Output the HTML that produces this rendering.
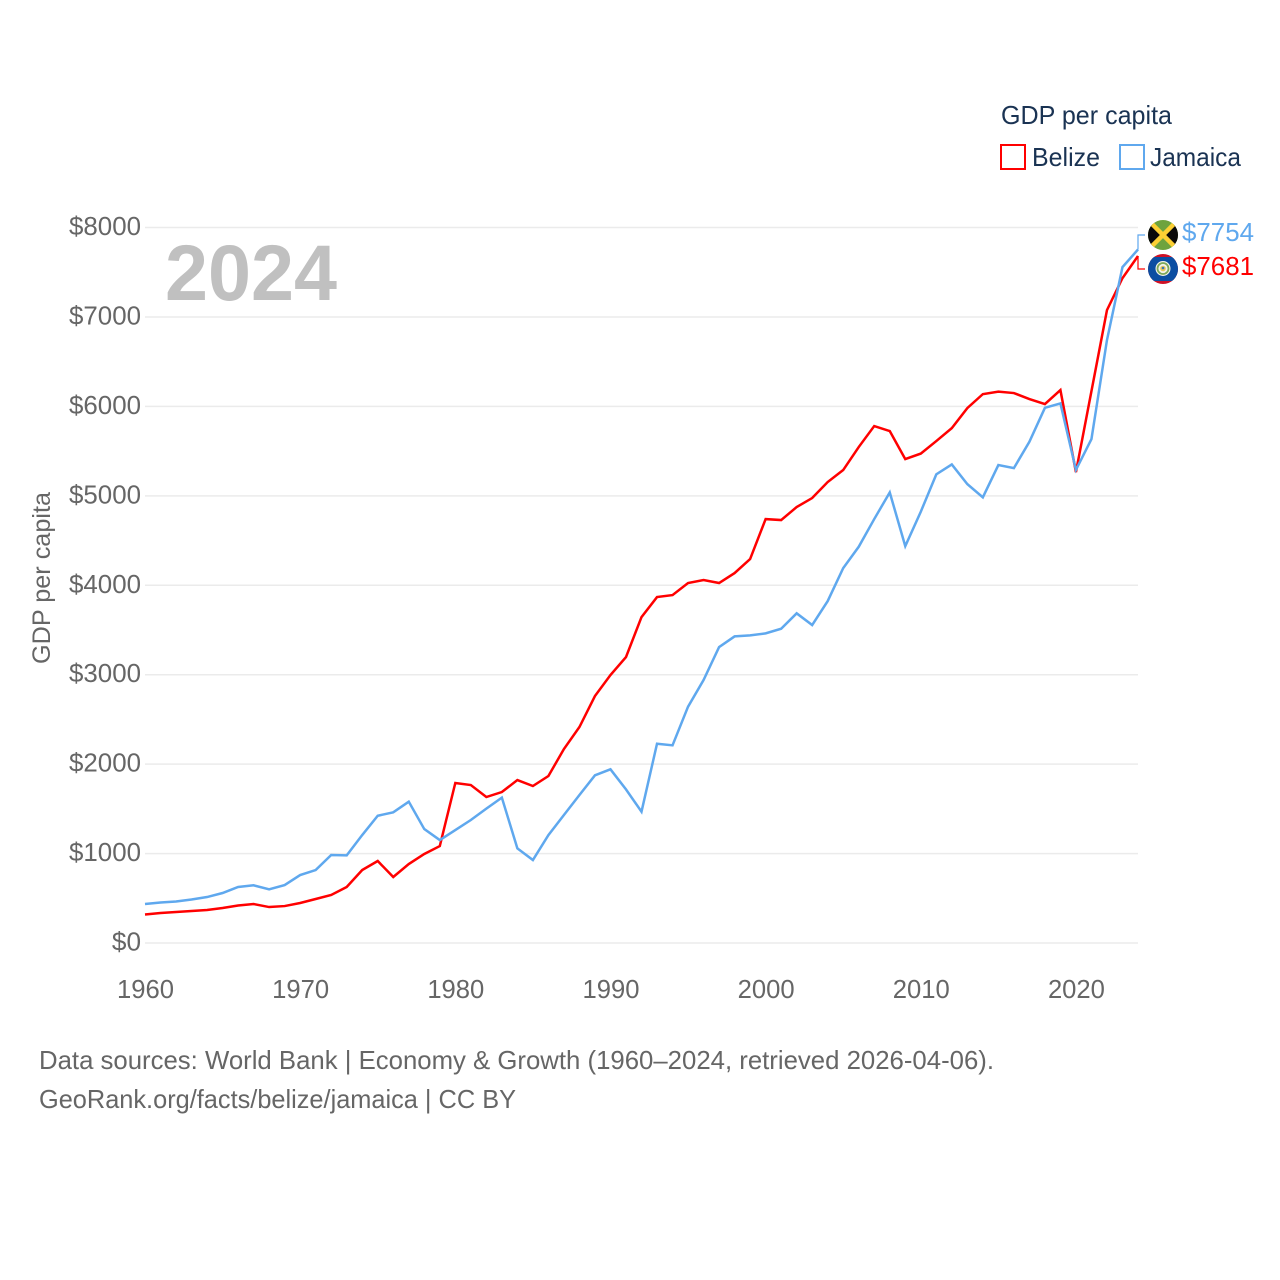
<!DOCTYPE html>
<html lang="en">
<head>
<meta charset="utf-8">
<title>GDP per capita: Belize and Jamaica</title>
<style>
html,body{margin:0;padding:0;background:#fff;width:1280px;height:1280px;overflow:hidden}
svg{display:block}
text{font-family:"Liberation Sans",sans-serif}
</style>
</head>
<body>
<svg id="chart" xmlns="http://www.w3.org/2000/svg" width="1280" height="1280" viewBox="0 0 1280 1280">
  <defs>
    <clipPath id="jam-clip"><circle cx="1163" cy="235" r="15"/></clipPath>
    <clipPath id="bel-clip"><circle cx="1163" cy="269" r="15"/></clipPath>
  </defs>
  <g id="grid"></g>
  <g id="yticks"></g>
  <g id="xticks"></g>
  <text x="165" y="300" font-size="79" font-weight="700" fill="#c0c0c0" textLength="172" lengthAdjust="spacingAndGlyphs">2024</text>
  <g id="series"></g>
  <g id="connectors"></g>

  <g clip-path="url(#jam-clip)">
    <rect x="1148" y="220" width="30" height="30" fill="#6ea33e"/>
    <polygon points="1148,220 1163,235 1148,250" fill="#0a0a0a"/>
    <polygon points="1178,220 1163,235 1178,250" fill="#0a0a0a"/>
    <line x1="1148" y1="220" x2="1178" y2="250" stroke="#fcd034" stroke-width="4.5"/>
    <line x1="1178" y1="220" x2="1148" y2="250" stroke="#fcd034" stroke-width="4.5"/>
  </g>
  <g clip-path="url(#bel-clip)">
    <rect x="1148" y="254" width="30" height="30" fill="#ce1126"/>
    <rect x="1148" y="257" width="30" height="24" fill="#0b4ea2"/>
    <circle cx="1163" cy="268.500" r="7.500" fill="#f4f4e8"/>
    <circle cx="1163" cy="268.500" r="5.500" fill="none" stroke="#7da85a" stroke-width="1.800"/>
    <circle cx="1163" cy="268.500" r="2.800" fill="#e9c85a"/>
    <circle cx="1163" cy="268" r="1.300" fill="#3b78b5"/>
  </g>

  <text x="1182" y="241" font-size="26" fill="#5fa8ee" textLength="72" lengthAdjust="spacingAndGlyphs">$7754</text>
  <text x="1182" y="275" font-size="26" fill="#ff0000" textLength="72" lengthAdjust="spacingAndGlyphs">$7681</text>

  <text x="1001" y="124" font-size="26" fill="#1a3353" textLength="171" lengthAdjust="spacingAndGlyphs">GDP per capita</text>
  <rect x="1001" y="145" width="24" height="24" fill="#fff" stroke="#ff0000" stroke-width="2"/>
  <text x="1032" y="166" font-size="26" fill="#1a3353" textLength="68" lengthAdjust="spacingAndGlyphs">Belize</text>
  <rect x="1120" y="145" width="24" height="24" fill="#fff" stroke="#5fa8ee" stroke-width="2"/>
  <text x="1150" y="166" font-size="26" fill="#1a3353" textLength="91" lengthAdjust="spacingAndGlyphs">Jamaica</text>

  <text transform="translate(50,578) rotate(-90)" text-anchor="middle" font-size="25" fill="#666666" textLength="172" lengthAdjust="spacingAndGlyphs">GDP per capita</text>

  <text x="39" y="1069" font-size="26" fill="#666666" textLength="955" lengthAdjust="spacingAndGlyphs">Data sources: World Bank | Economy &amp; Growth (1960–2024, retrieved 2026-04-06).</text>
  <text x="39" y="1108" font-size="26" fill="#666666" textLength="477" lengthAdjust="spacingAndGlyphs">GeoRank.org/facts/belize/jamaica | CC BY</text>
</svg>
<script>
const startYear = 1960;
const yTickValues = [0, 1000, 2000, 3000, 4000, 5000, 6000, 7000, 8000];
const xTickYears = [1960, 1970, 1980, 1990, 2000, 2010, 2020];
const belizeValues = [319, 335, 347, 358, 369, 391, 419, 436, 402, 413, 447, 492, 537, 626, 816, 917, 738, 883, 995, 1084, 1789, 1766, 1632, 1688, 1822, 1755, 1867, 2169, 2415, 2761, 2996, 3197, 3644, 3868, 3890, 4025, 4058, 4025, 4136, 4293, 4740, 4729, 4874, 4975, 5154, 5288, 5545, 5780, 5724, 5411, 5472, 5612, 5757, 5981, 6137, 6165, 6149, 6082, 6026, 6182, 5265, 6170, 7076, 7434, 7681];
const jamaicaValues = [436, 453, 464, 486, 514, 559, 626, 645, 600, 648, 760, 816, 984, 980, 1207, 1423, 1461, 1580, 1274, 1151, 1263, 1375, 1502, 1625, 1058, 928, 1207, 1431, 1655, 1875, 1942, 1718, 1468, 2228, 2210, 2642, 2940, 3309, 3428, 3440, 3462, 3514, 3686, 3555, 3823, 4192, 4430, 4740, 5038, 4438, 4822, 5240, 5351, 5131, 4983, 5344, 5310, 5604, 5984, 6033, 5290, 5634, 6741, 7557, 7754];

const NS = 'http://www.w3.org/2000/svg';
function xScale(year) { return 145 + (year - 1960) * (1138 - 145) / 64; }
function yScale(v) { return 943 - v * (943 - 227.500) / 8000; }
function make(tag, parent, attrs, text) {
  const el = document.createElementNS(NS, tag);
  for (const k in attrs) el.setAttribute(k, attrs[k]);
  if (text !== undefined) el.textContent = text;
  parent.appendChild(el);
  return el;
}

const gridG = document.getElementById('grid');
const yG = document.getElementById('yticks');
yTickValues.forEach(function (v) {
  const line = make('line', gridG, { x1: 145, x2: 1138, y1: yScale(v), y2: yScale(v), stroke: '#ebebeb', 'stroke-width': 1.500 });
  
  
  const label = '$' + v;
  const t = make('text', yG, { x: 141, y: yScale(v) + 7.500, 'text-anchor': 'end', 'font-size': 26, fill: '#666666', textLength: label.length * 14.300 + 0.500, lengthAdjust: 'spacingAndGlyphs' }, label);
  
  
});

const xG = document.getElementById('xticks');
xTickYears.forEach(function (yr) {
  const t = make('text', xG, { x: xScale(yr) + 0.500, y: 998, 'text-anchor': 'middle', 'font-size': 26, fill: '#666666', textLength: 57, lengthAdjust: 'spacingAndGlyphs' }, String(yr));
  
  
});

function pathFor(values) {
  return values.map(function (v, i) {
    return (i ? 'L' : 'M') + xScale(startYear + i).toFixed(2) + ' ' + yScale(v).toFixed(2);
  }).join(' ');
}
const seriesG = document.getElementById('series');
const belizeLine = make('path', seriesG, { d: pathFor(belizeValues), fill: 'none', stroke: '#ff0000', 'stroke-width': 2.500, 'stroke-linejoin': 'miter' });


const jamaicaLine = make('path', seriesG, { d: pathFor(jamaicaValues), fill: 'none', stroke: '#5fa8ee', 'stroke-width': 2.500, 'stroke-linejoin': 'miter' });



const connG = document.getElementById('connectors');
const lastBelize = belizeValues[belizeValues.length - 1];
const lastJamaica = jamaicaValues[jamaicaValues.length - 1];
const conJ = make('path', connG, { d: 'M1138 ' + yScale(lastJamaica) + ' V235 H1145', fill: 'none', stroke: '#5fa8ee', 'stroke-width': 1.200 });


const conB = make('path', connG, { d: 'M1138 ' + yScale(lastBelize) + ' V269 H1145', fill: 'none', stroke: '#ff0000', 'stroke-width': 1.200 });


</script>
</body>
</html>
